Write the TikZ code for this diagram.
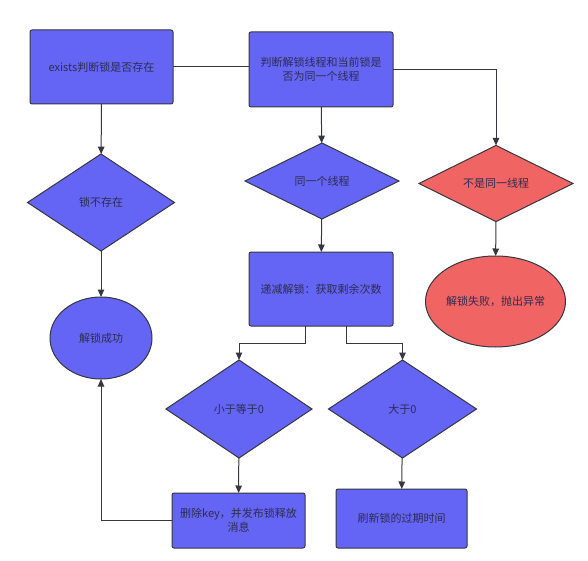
\documentclass[tikz,border=0pt]{standalone}
\usepackage{fontspec}
\setmainfont{Noto Sans CJK SC}
\usetikzlibrary{shapes.geometric,arrows.meta}
\definecolor{bfill}{RGB}{100,100,245}
\definecolor{rfill}{RGB}{240,100,100}
\definecolor{edge}{RGB}{55,55,65}
\definecolor{txt}{RGB}{45,45,80}
\tikzset{
  base/.style={draw=edge, line width=1pt, text=txt, font=\fontsize{11}{14}\selectfont, align=center, inner sep=0pt, outer sep=0pt},
  procbox/.style={base, fill=bfill, rectangle, rounded corners=2pt},
  decis/.style={base, fill=bfill, diamond},
  termi/.style={base, fill=bfill, ellipse},
  conn/.style={draw=edge, line width=1pt},
  arr/.style={conn, -{Triangle[length=7.5pt,width=6.5pt]}},
}
\begin{document}
\begin{tikzpicture}[x=1pt,y=-1pt]
\useasboundingbox (0,0) rectangle (588,561);
% boxes
\node[procbox, minimum width=143pt, minimum height=74pt] (exists) at (101.5,67) {exists判断锁是否存在};
\node[procbox, minimum width=144pt, minimum height=75pt] (same) at (321,69.5) {判断解锁线程和当前锁是\\否为同一个线程};
\node[decis, minimum width=147pt, minimum height=97pt] (nolock) at (101,202.5) {锁不存在};
\node[decis, minimum width=154pt, minimum height=76pt] (issame) at (322,181) {同一个线程};
\node[decis, fill=rfill, minimum width=154pt, minimum height=75pt] (notsame) at (496,183.5) {不是同一线程};
\node[procbox, minimum width=144pt, minimum height=74pt] (dec) at (321,289) {递减解锁：获取剩余次数};
\node[termi, fill=rfill, minimum width=115pt, minimum height=91pt] (fail) at (495.5,301.5) {解锁失败，抛出异常};
\node[termi, minimum width=102pt, minimum height=82pt] (ok) at (101,338) {解锁成功};
\node[decis, minimum width=146pt, minimum height=98pt] (le) at (239,409) {小于等于0};
\node[decis, minimum width=148pt, minimum height=98pt] (gt) at (402.5,409) {大于0};
\node[procbox, minimum width=133pt, minimum height=55pt] (del) at (238.5,520.5) {删除key，并发布锁释放\\消息};
\node[procbox, minimum width=131pt, minimum height=59pt] (refresh) at (401.5,518.5) {刷新锁的过期时间};
% connectors
\draw[conn] (exists.east) -- (same.west |- exists.east);
\draw[arr] (exists) -- (nolock);
\draw[arr] (nolock) -- (ok);
\draw[arr] (same) -- (issame);
\draw[arr] (issame) -- (dec);
\draw[arr] (same.east) -| (notsame.north);
\draw[arr] (notsame) -- (fail);
\coordinate (dl) at (305,326);
\coordinate (dr) at (346,326);
\draw[arr] (dl) |- (239,343) -- (le.north);
\draw[arr] (dr) |- (402.5,343) -- (gt.north);
\draw[arr] (le) -- (del);
\draw[arr] (gt) -- (refresh);
\draw[arr] (del.west) -| (ok.south);
\end{tikzpicture}
\end{document}
